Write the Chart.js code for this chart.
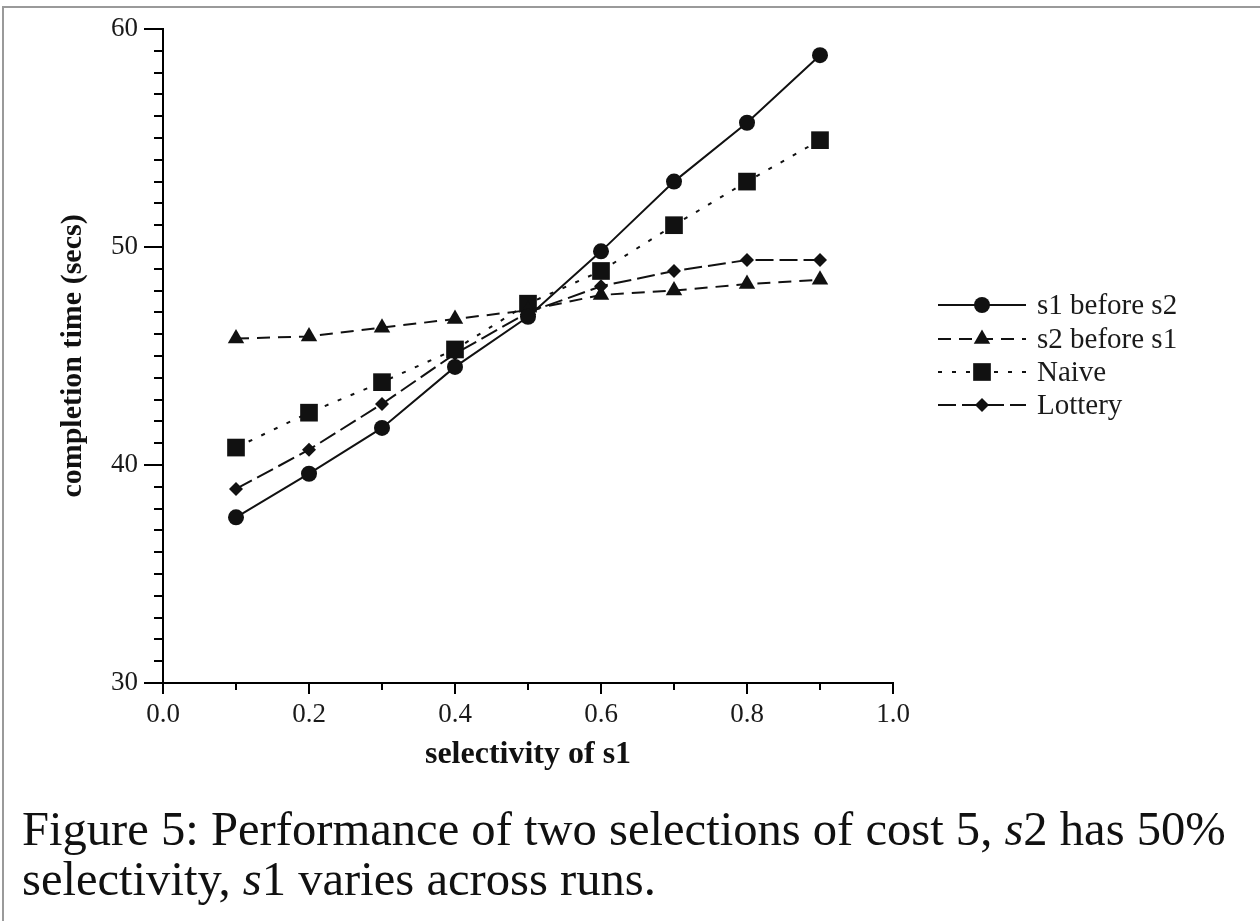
<!DOCTYPE html>
<html><head><meta charset="utf-8">
<script src="https://cdn.jsdelivr.net/npm/chart.js@4/dist/chart.umd.min.js"></script>
<style>
html,body{margin:0;padding:0;background:#fff;width:1260px;height:921px;overflow:hidden}
#frame{position:absolute;left:2px;top:6px;width:1258px;height:915px;border-top:2px solid #9a9a9a;border-left:2px solid #9a9a9a;box-sizing:border-box}
#wrap{position:absolute;left:0;top:0;width:1260px;height:790px}
#caption{position:absolute;left:22px;top:804px;font-family:"Liberation Serif",serif;font-size:48.6px;line-height:50px;color:#111;white-space:nowrap}
</style></head>
<body>
<div id="frame"></div>
<div id="wrap"><canvas id="c" width="1260" height="790"></canvas></div>
<div id="caption">Figure 5: Performance of two selections of cost 5, <i>s</i>2 has 50%<br>selectivity, <i>s</i>1 varies across runs.</div>
<script>
const selectivity = [0.1,0.2,0.3,0.4,0.5,0.6,0.7,0.8,0.9];
const s1BeforeS2 = [37.6,39.6,41.7,44.5,46.8,49.8,53.0,55.7,58.8];
const s2BeforeS1 = [45.8,45.9,46.3,46.7,47.1,47.8,48.0,48.3,48.5];
const naive      = [40.8,42.4,43.8,45.3,47.4,48.9,51.0,53.0,54.9];
const lottery    = [38.9,40.7,42.8,45.1,47.0,48.2,48.9,49.4,49.4];
const seriesNames = ['s1 before s2','s2 before s1','Naive','Lottery'];
const xTickValues = [0,0.2,0.4,0.6,0.8,1.0];
const yTickValues = [30,40,50,60];

const INK = '#111';
const pts = arr => selectivity.map((x,i)=>({x, y: arr[i]}));
const styles = [
  {shape:'circle',  r:8,    dash:[]},
  {shape:'triangle',r:9.5,  dash:[13,8]},
  {shape:'rect',    r:12.5, dash:[4,10]},
  {shape:'rectRot', r:7,    dash:[18,6]}
];
const seriesData = [s1BeforeS2, s2BeforeS1, naive, lottery];
const datasets = seriesData.map((arr,i)=>({
  label: seriesNames[i],
  data: pts(arr),
  showLine: true,
  borderColor: INK,
  backgroundColor: INK,
  borderWidth: 2,
  borderDash: styles[i].dash,
  pointStyle: styles[i].shape,
  pointRadius: styles[i].r,
  pointHoverRadius: styles[i].r,
  pointBorderWidth: 0,
  pointBackgroundColor: INK,
  pointBorderColor: INK
}));

function drawMarker(ctx, shape, r, x, y){
  ctx.beginPath();
  if (shape==='circle'){ ctx.arc(x,y,r,0,Math.PI*2); }
  else if (shape==='triangle'){
    for (let k=0;k<3;k++){ const a=k*2*Math.PI/3; const px=x+Math.sin(a)*r, py=y-Math.cos(a)*r; k?ctx.lineTo(px,py):ctx.moveTo(px,py);} ctx.closePath();
  } else if (shape==='rect'){ const s=Math.SQRT1_2*r; ctx.rect(x-s,y-s,2*s,2*s); }
  else { ctx.moveTo(x-r,y); ctx.lineTo(x,y-r); ctx.lineTo(x+r,y); ctx.lineTo(x,y+r); ctx.closePath(); }
  ctx.fill();
}

const decor = {
  id:'decor',
  afterDraw(chart){
    const {ctx, scales:{x,y}, chartArea:a} = chart;
    ctx.save();
    ctx.strokeStyle='#000'; ctx.lineWidth=2; ctx.setLineDash([]);
    ctx.beginPath();
    for (let v=y.min+1; v<y.max; v++){ if (v%10===0) continue; const py=Math.round(y.getPixelForValue(v)); ctx.moveTo(a.left-9,py); ctx.lineTo(a.left,py); }
    for (let k=1;k<10;k+=2){ const px=Math.round(x.getPixelForValue(k/10)); ctx.moveTo(px,a.bottom); ctx.lineTo(px,a.bottom+7); }
    ctx.stroke();
    // legend
    const rows=[305,339,372,405];
    ctx.font='29px "Liberation Serif"'; ctx.textBaseline='middle'; ctx.textAlign='left';
    chart.data.datasets.forEach((ds,i)=>{
      const yy=rows[i];
      ctx.strokeStyle=INK; ctx.lineWidth=2; ctx.setLineDash(styles[i].dash);
      ctx.beginPath(); ctx.moveTo(938,yy); ctx.lineTo(1026,yy); ctx.stroke();
      ctx.setLineDash([]); ctx.fillStyle=INK;
      drawMarker(ctx, styles[i].shape, styles[i].r, 982, yy);
      ctx.fillStyle='#1a1a1a';
      ctx.fillText(ds.label, 1037, yy+1);
    });
    ctx.restore();
  }
};

const tickFont = {family:'"Liberation Serif"', size:27};
const xTitleFont = {family:'"Liberation Serif"', size:32, weight:'bold', lineHeight:1.2};
const yTitleFont = {family:'"Liberation Serif"', size:30, weight:'bold', lineHeight:1.2};

new Chart(document.getElementById('c'), {
  type:'scatter',
  data:{datasets},
  options:{
    responsive:false, animation:false, devicePixelRatio:1,
    layout:{padding:{top:29,right:367,left:0,bottom:0}},
    plugins:{legend:{display:false}, tooltip:{enabled:false}},
    scales:{
      x:{
        type:'linear', min:0, max:1,
        afterBuildTicks: s => { s.ticks = xTickValues.map(v=>({value:v})); },
        afterFit: s => { s.height = 107; },
        ticks:{font:tickFont, color:'#1a1a1a', padding:5, maxRotation:0, callback:v=>Number(v).toFixed(1)},
        grid:{display:true, drawOnChartArea:false, drawTicks:true, tickLength:11, color:'#000', lineWidth:2},
        border:{display:true, color:'#000', width:2},
        title:{display:true, text:'selectivity of s1', font:xTitleFont, color:'#111', padding:{top:16,bottom:16}}
      },
      y:{
        type:'linear', min:30, max:60,
        afterBuildTicks: s => { s.ticks = yTickValues.map(v=>({value:v})); },
        afterFit: s => { s.width = 163; },
        ticks:{font:tickFont, color:'#1a1a1a', padding:6, callback:v=>String(v)},
        grid:{display:true, drawOnChartArea:false, drawTicks:true, tickLength:19, color:'#000', lineWidth:2},
        border:{display:true, color:'#000', width:2},
        title:{display:true, text:'completion time (secs)', font:yTitleFont, color:'#111', padding:{top:55,bottom:55}}
      }
    }
  },
  plugins:[decor]
});
</script>
</body></html>
